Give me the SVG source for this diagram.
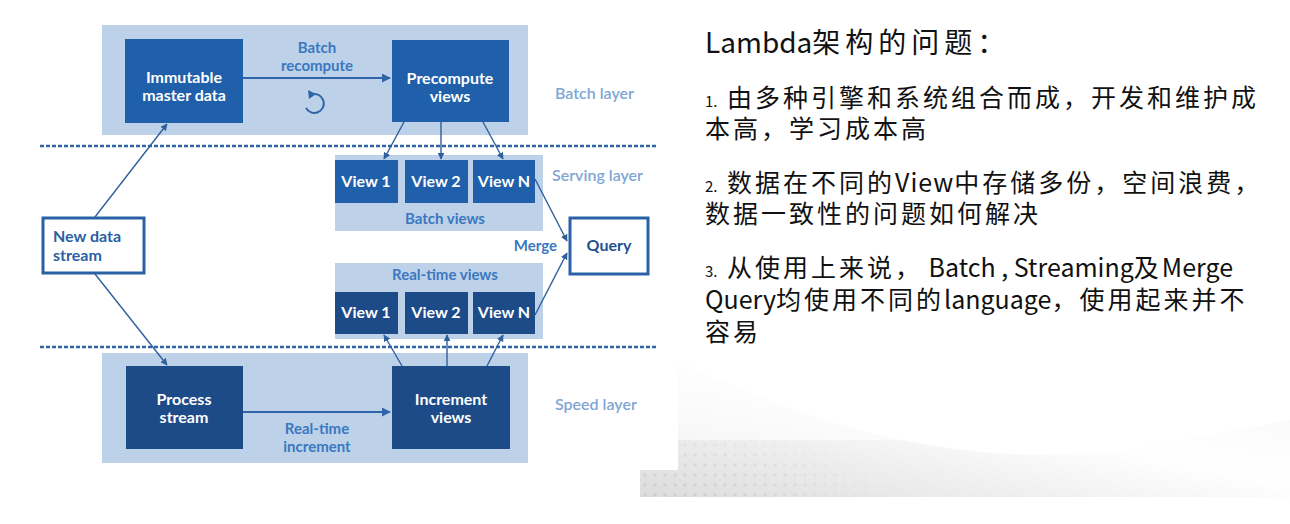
<svg xmlns="http://www.w3.org/2000/svg" width="1290" height="524" viewBox="0 0 1290 524">
<defs>
  <marker id="ah" viewBox="0 0 10 10" refX="9" refY="5" markerWidth="7" markerHeight="7" orient="auto" markerUnits="userSpaceOnUse">
    <path d="M0,0 L10,5 L0,10 z" fill="#2f5f9c"/>
  </marker>
  <marker id="ah2" viewBox="0 0 10 10" refX="9" refY="5" markerWidth="9" markerHeight="9" orient="auto" markerUnits="userSpaceOnUse">
    <path d="M0,0 L10,5 L0,10 z" fill="#2f64a8"/>
  </marker>
  <linearGradient id="wave" x1="0" y1="1" x2="1" y2="0">
    <stop offset="0" stop-color="#dcdcdc"/>
    <stop offset="0.3" stop-color="#efefef"/>
    <stop offset="0.55" stop-color="#ffffff"/>
    <stop offset="1" stop-color="#f6f6f6"/>
  </linearGradient>
  <pattern id="dots" width="10" height="10" patternUnits="userSpaceOnUse">
    <circle cx="5" cy="5" r="1.8" fill="#c8c8c8"/>
  </pattern>
  <radialGradient id="fade" cx="0.05" cy="0.95" r="0.6">
    <stop offset="0" stop-color="#fff" stop-opacity="1"/>
    <stop offset="1" stop-color="#fff" stop-opacity="0"/>
  </radialGradient>
  <mask id="dmask"><rect x="640" y="380" width="400" height="117" fill="url(#fade)"/></mask>
</defs>
<style>
  .bg { fill: #bdd1e9; }
  .bbox { fill: #2060aa; }
  .sbox { fill: #1c4b88; }
  .wbox { fill: #ffffff; stroke: #2a60a6; stroke-width: 3; }
  .wt { font-family: Lato, "Noto Sans", sans-serif; font-weight: bold; font-size: 16px; fill: #ffffff; text-anchor: middle; }
  .vt { font-family: Lato, "Noto Sans", sans-serif; font-weight: bold; font-size: 16px; fill: #ffffff; text-anchor: middle; }
  .lbl { font-family: Lato, "Noto Sans", sans-serif; font-weight: bold; font-size: 15px; fill: #3a78c0; text-anchor: middle; }
  .lbl-end { font-family: Lato, "Noto Sans", sans-serif; font-weight: bold; font-size: 15px; fill: #3a78c0; text-anchor: end; }
  .layer { font-family: Lato, "Noto Sans", sans-serif; font-weight: 600; font-size: 16px; fill: #7fa6d4; }
  .nt { font-family: Lato, "Noto Sans", sans-serif; font-weight: bold; font-size: 16px; fill: #2a5fa3; }
  .qt { font-family: Lato, "Noto Sans", sans-serif; font-weight: bold; font-size: 16px; fill: #1f4f8f; text-anchor: middle; }
  .dash { stroke: #2f64a6; stroke-width: 2.5; stroke-dasharray: 4 2; fill: none; }
  .conn { stroke: #2f5f9c; stroke-width: 1.4; fill: none; marker-end: url(#ah); }
  .conn2 { stroke: #2f64a8; stroke-width: 2; fill: none; marker-end: url(#ah2); }
  .zh { font-family: "Noto Sans CJK SC", "Liberation Sans", sans-serif; font-size: 25px; fill: #111111; }
  .ttl { font-family: "Noto Sans CJK SC", "Liberation Sans", sans-serif; font-size: 28px; fill: #111111; }
  .num { font-family: "Noto Sans CJK SC", "Liberation Sans", sans-serif; font-size: 15px; fill: #111111; }
  .cj { letter-spacing: 3px; }
</style>
<rect width="1290" height="524" fill="#ffffff"/>
<!-- decorative background -->
<g id="decor">
  <path d="M678,360 C760,400 860,440 980,452 C1080,462 1180,440 1290,420 L1290,497 L640,497 L640,470 L678,470 Z" fill="url(#wave)"/>
  <path d="M640,380 L1040,380 L1040,497 L640,497 Z" fill="url(#dots)" opacity="0.7" mask="url(#dmask)"/>
  <path d="M640,360 L678,360 L678,470 L640,470 Z" fill="#ffffff"/>
  <path d="M678,360 C760,395 850,425 960,440 L678,440 Z" fill="#ffffff" opacity="0.6"/>
</g>

<!-- layer backgrounds -->
<g id="batch-layer-bg"><rect class="bg" x="102" y="25" width="426" height="110"/></g>
<g id="speed-layer-bg"><rect class="bg" x="102" y="353" width="426" height="110"/></g>
<g id="serving-bg"><rect class="bg" x="335" y="155" width="208" height="76"/></g>
<g id="realtime-bg"><rect class="bg" x="335" y="263" width="208" height="76"/></g>

<!-- dashed separators -->
<line class="dash" x1="40" y1="146" x2="656" y2="146"/>
<line class="dash" x1="40" y1="347" x2="656" y2="347"/>

<!-- nodes -->
<g id="immutable">
  <rect class="bbox" x="125" y="39" width="118" height="84"/>
  <text class="wt" x="184" y="83">Immutable</text>
  <text class="wt" x="184" y="101">master data</text>
</g>
<g id="precompute">
  <rect class="bbox" x="392" y="40" width="117" height="82"/>
  <text class="wt" x="450" y="84">Precompute</text>
  <text class="wt" x="450" y="102">views</text>
</g>
<g id="batch-view-1"><rect class="bbox" x="335" y="160" width="63" height="43"/><text class="vt" x="366" y="187">View 1</text></g>
<g id="batch-view-2"><rect class="bbox" x="405" y="160" width="63" height="43"/><text class="vt" x="436" y="187">View 2</text></g>
<g id="batch-view-n"><rect class="bbox" x="473" y="160" width="62" height="43"/><text class="vt" x="504" y="187">View N</text></g>
<g id="rt-view-1"><rect class="sbox" x="335" y="292" width="63" height="42"/><text class="vt" x="366" y="318">View 1</text></g>
<g id="rt-view-2"><rect class="sbox" x="405" y="292" width="63" height="42"/><text class="vt" x="436" y="318">View 2</text></g>
<g id="rt-view-n"><rect class="sbox" x="473" y="292" width="62" height="42"/><text class="vt" x="504" y="318">View N</text></g>
<g id="new-data">
  <rect class="wbox" x="43" y="218" width="101" height="55"/>
  <text class="nt" x="53" y="242">New data</text>
  <text class="nt" x="53" y="261">stream</text>
</g>
<g id="query">
  <rect class="wbox" x="570" y="218" width="78" height="56"/>
  <text class="qt" x="609" y="251">Query</text>
</g>
<g id="process">
  <rect class="sbox" x="126" y="366" width="117" height="83"/>
  <text class="wt" x="184" y="405">Process</text>
  <text class="wt" x="184" y="423">stream</text>
</g>
<g id="increment">
  <rect class="sbox" x="392" y="366" width="118" height="83"/>
  <text class="wt" x="451" y="405">Increment</text>
  <text class="wt" x="451" y="423">views</text>
</g>

<!-- labels -->
<g id="labels">
  <text class="lbl" x="317" y="53">Batch</text>
  <text class="lbl" x="317" y="71">recompute</text>
  <text class="lbl" x="445" y="224">Batch views</text>
  <text class="lbl" x="445" y="280">Real-time views</text>
  <text class="lbl-end" x="557" y="251">Merge</text>
  <text class="lbl" x="317" y="434">Real-time</text>
  <text class="lbl" x="317" y="452">increment</text>
  <text class="layer" x="555" y="99">Batch layer</text>
  <text class="layer" x="552" y="181">Serving layer</text>
  <text class="layer" x="555" y="410">Speed layer</text>
</g>

<!-- connectors -->
<g id="connectors">
  <line class="conn2" x1="243" y1="78" x2="390" y2="78"/>
  <line class="conn2" x1="243" y1="412" x2="390" y2="412"/>
  <line class="conn" x1="95" y1="217" x2="167" y2="124"/>
  <line class="conn" x1="95" y1="274" x2="167" y2="365"/>
  <line class="conn" x1="404" y1="122" x2="384" y2="159"/>
  <line class="conn" x1="441" y1="122" x2="441" y2="159"/>
  <line class="conn" x1="483" y1="122" x2="503" y2="159"/>
  <line class="conn" x1="402" y1="366" x2="384" y2="335"/>
  <line class="conn" x1="447" y1="366" x2="447" y2="335"/>
  <line class="conn" x1="487" y1="366" x2="503" y2="335"/>
  <line class="conn" x1="535" y1="179" x2="567" y2="241"/>
  <line class="conn" x1="535" y1="315" x2="567" y2="253"/>
  <path d="M313,94 A9.5,9.5 0 1 1 306,108" stroke="#2f64a8" stroke-width="2" fill="none"/>
  <path d="M308,90 L316,94 L309,99 Z" fill="#2f64a8"/>
</g>

<!-- right text -->
<g id="notes">
  <text class="ttl" x="705" y="53">Lambda<tspan style="letter-spacing:5px">架构的问题：</tspan></text>
  <text class="num" x="705" y="107">1.</text>
  <text class="zh cj" x="727" y="107">由多种引擎和系统组合而成，开发和维护成</text>
  <text class="zh cj" x="705" y="138">本高，学习成本高</text>
  <text class="num" x="705" y="192">2.</text>
  <text class="zh" x="727" y="192"><tspan class="cj">数据在不同的</tspan><tspan style="letter-spacing:1px">View</tspan><tspan class="cj">中存储多份，空间浪费，</tspan></text>
  <text class="zh cj" x="705" y="223">数据一致性的问题如何解决</text>
  <text class="num" x="705" y="277">3.</text>
  <text class="zh" x="727" y="277"><tspan class="cj">从使用上来说，</tspan><tspan style="letter-spacing:0px"> Batch , Streaming</tspan><tspan class="cj">及</tspan><tspan style="letter-spacing:0px">Merge</tspan></text>
  <text class="zh" x="705" y="309"><tspan style="letter-spacing:0px">Query</tspan><tspan class="cj">均使用不同的</tspan><tspan style="letter-spacing:0px">language</tspan><tspan class="cj">，使用起来并不</tspan></text>
  <text class="zh cj" x="705" y="341">容易</text>
</g>
</svg>
